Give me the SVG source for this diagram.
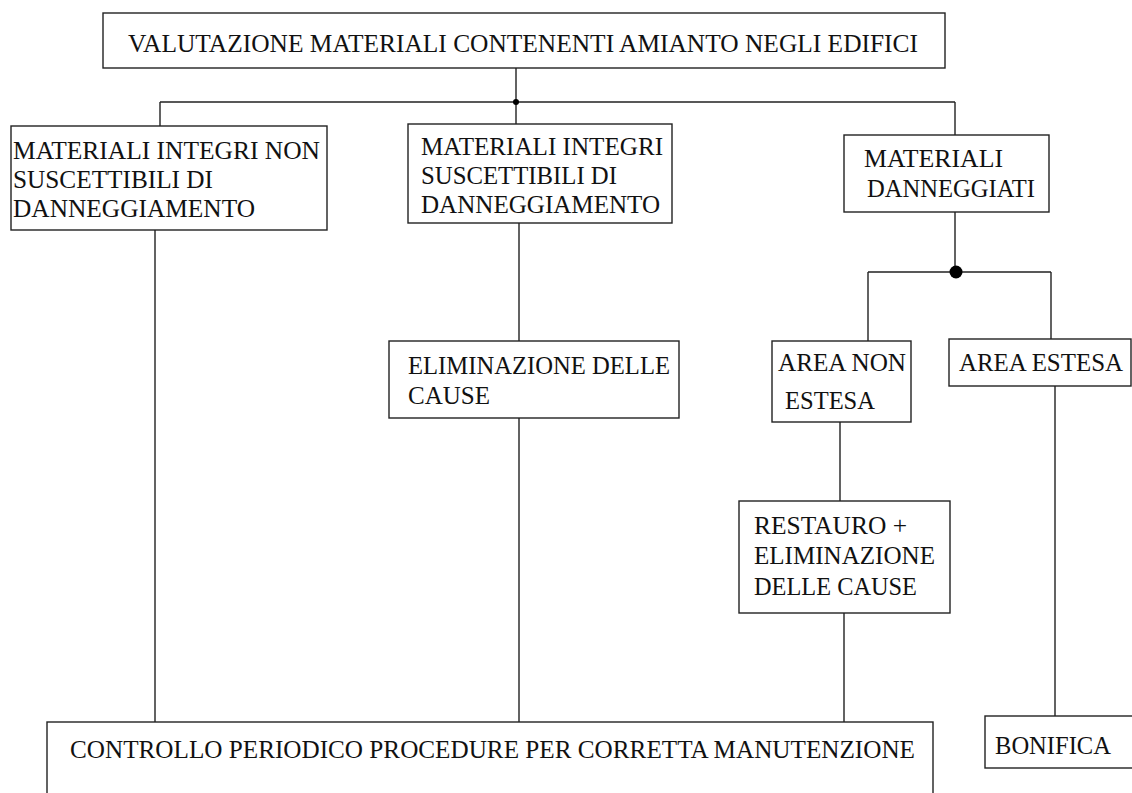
<svg xmlns="http://www.w3.org/2000/svg" width="1132" height="793" viewBox="0 0 1132 793">
<style>
.box{fill:#fff;stroke:#222;stroke-width:1.4}
.t{font-family:"Liberation Serif","Times New Roman",serif;font-size:25px;fill:#111}
.c{stroke:#222;stroke-width:1.4;fill:none}
.d{fill:#000}
</style>
<rect width="1132" height="793" fill="#fff"/>
<g id="connectors">
<path class="c" d="M516,68V102M160,102H955M160,102V126M516,102V124M955,102V135"/>
<path class="c" d="M155,230V722M519,223V341M519,418V722"/>
<path class="c" d="M955,212V272M868,272H1051M868,272V341M1051,272V339"/>
<path class="c" d="M840,422V501M844,613V722M1055,386V716"/>
<circle class="d" cx="516" cy="102" r="3"/>
<circle class="d" cx="956" cy="272" r="6.5"/>
</g>
<g id="n-top"><rect class="box" x="103" y="13" width="842" height="55"/>
<text class="t" x="128" y="52" textLength="790" lengthAdjust="spacingAndGlyphs">VALUTAZIONE MATERIALI CONTENENTI AMIANTO NEGLI EDIFICI</text></g>
<g id="n-a"><rect class="box" x="11" y="126" width="316" height="104"/>
<text class="t" x="13" y="159" textLength="307" lengthAdjust="spacingAndGlyphs">MATERIALI INTEGRI NON</text>
<text class="t" x="13" y="188" textLength="200" lengthAdjust="spacingAndGlyphs">SUSCETTIBILI DI</text>
<text class="t" x="13" y="217" textLength="242" lengthAdjust="spacingAndGlyphs">DANNEGGIAMENTO</text></g>
<g id="n-b"><rect class="box" x="408" y="124" width="264" height="99"/>
<text class="t" x="421" y="155" textLength="242" lengthAdjust="spacingAndGlyphs">MATERIALI INTEGRI</text>
<text class="t" x="421" y="184" textLength="196" lengthAdjust="spacingAndGlyphs">SUSCETTIBILI DI</text>
<text class="t" x="421" y="213" textLength="239" lengthAdjust="spacingAndGlyphs">DANNEGGIAMENTO</text></g>
<g id="n-c"><rect class="box" x="844" y="135" width="205" height="77"/>
<text class="t" x="864" y="167" textLength="139" lengthAdjust="spacingAndGlyphs">MATERIALI</text>
<text class="t" x="867" y="197" textLength="168" lengthAdjust="spacingAndGlyphs">DANNEGGIATI</text></g>
<g id="n-elim"><rect class="box" x="389" y="341" width="290" height="77"/>
<text class="t" x="408" y="374" textLength="262" lengthAdjust="spacingAndGlyphs">ELIMINAZIONE DELLE</text>
<text class="t" x="408" y="404" textLength="82" lengthAdjust="spacingAndGlyphs">CAUSE</text></g>
<g id="n-nonestesa"><rect class="box" x="772" y="341" width="139" height="81"/>
<text class="t" x="778" y="371" textLength="128" lengthAdjust="spacingAndGlyphs">AREA NON</text>
<text class="t" x="785" y="409" textLength="90" lengthAdjust="spacingAndGlyphs">ESTESA</text></g>
<g id="n-estesa"><rect class="box" x="949" y="339" width="182" height="47"/>
<text class="t" x="959" y="371" textLength="164" lengthAdjust="spacingAndGlyphs">AREA ESTESA</text></g>
<g id="n-restauro"><rect class="box" x="739" y="501" width="211" height="112"/>
<text class="t" x="754" y="534" textLength="153" lengthAdjust="spacingAndGlyphs">RESTAURO +</text>
<text class="t" x="754" y="564" textLength="181" lengthAdjust="spacingAndGlyphs">ELIMINAZIONE</text>
<text class="t" x="754" y="595" textLength="163" lengthAdjust="spacingAndGlyphs">DELLE CAUSE</text></g>
<g id="n-controllo"><rect class="box" x="47" y="722" width="886" height="90"/>
<text class="t" x="70" y="758" textLength="845" lengthAdjust="spacingAndGlyphs">CONTROLLO PERIODICO PROCEDURE PER  CORRETTA MANUTENZIONE</text></g>
<g id="n-bonifica"><rect class="box" x="985" y="716" width="160" height="52"/>
<text class="t" x="995" y="754" textLength="116" lengthAdjust="spacingAndGlyphs">BONIFICA</text></g>
</svg>
